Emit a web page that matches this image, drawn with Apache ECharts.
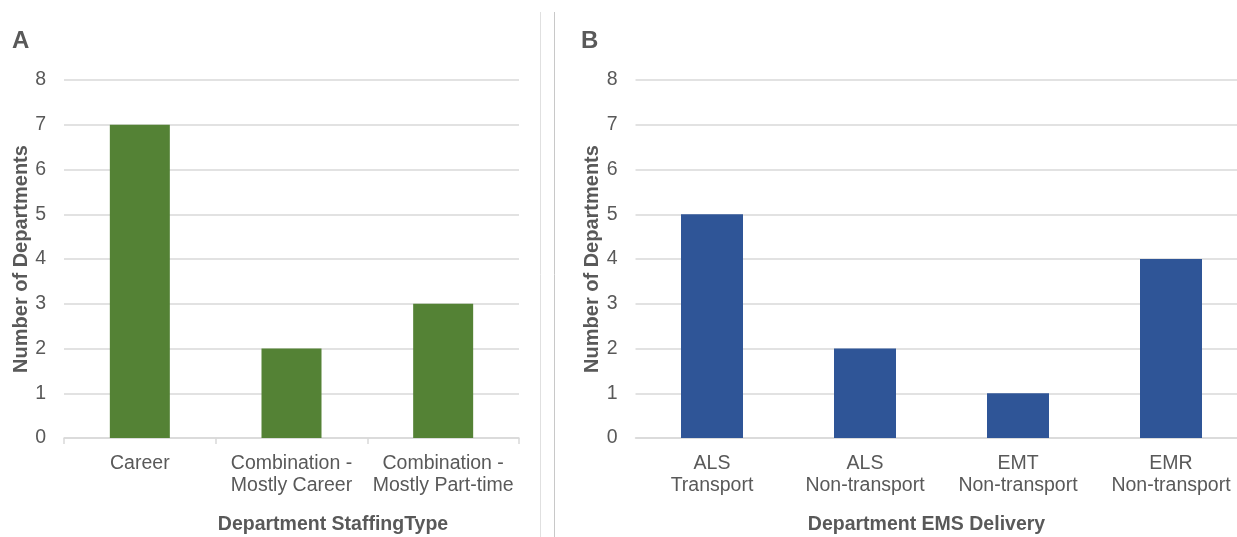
<!DOCTYPE html>
<html>
<head>
<meta charset="utf-8">
<script src="https://cdn.jsdelivr.net/npm/echarts@6/dist/echarts.min.js"></script>
<style>html,body{margin:0;padding:0;background:#fff;}#c{width:1237px;height:537px;}</style>
</head>
<body>
<div id="c"></div>
<script>
const staffingCategories = ['Career', 'Combination -\nMostly Career', 'Combination -\nMostly Part-time'];
const staffingValues = [7, 2, 3];
const emsCategories = ['ALS\nTransport', 'ALS\nNon-transport', 'EMT\nNon-transport', 'EMR\nNon-transport'];
const emsValues = [5, 2, 1, 4];
const yTicks = [0, 1, 2, 3, 4, 5, 6, 7, 8];

const FONT = '"Liberation Sans", Arial, sans-serif';
const TXT = '#595959';
const GRID = '#d9d9d9';

function yAxis(idx, gap) {
  return {
    type: 'value', gridIndex: idx, min: yTicks[0], max: yTicks[yTicks.length - 1], interval: 1,
    name: 'Number of Departments', nameLocation: 'middle', nameGap: gap,
    nameTextStyle: { fontFamily: FONT, fontSize: 20, fontWeight: 'bold', color: TXT },
    axisLine: { show: false }, axisTick: { show: false },
    axisLabel: { fontFamily: FONT, fontSize: 19.5, color: TXT, margin: 18 },
    splitLine: { lineStyle: { color: GRID, width: 1.5 } }
  };
}
function xAxis(idx, cats, name, ticks, pad) {
  return {
    type: 'category', gridIndex: idx, data: cats,
    name: name, nameLocation: 'middle', nameGap: 77,
    nameTextStyle: { fontFamily: FONT, fontSize: 19.5, fontWeight: 'bold', color: TXT, padding: pad },
    axisLine: { lineStyle: { color: GRID, width: 1.5 } },
    axisTick: { show: ticks, length: 6, lineStyle: { color: GRID, width: 1.5 } },
    axisLabel: { fontFamily: FONT, fontSize: 19.5, color: TXT, lineHeight: 22, margin: 15, interval: 0 }
  };
}

const chart = echarts.init(document.getElementById('c'));
chart.setOption({
  animation: false,
  backgroundColor: '#fff',
  grid: [
    { left: 64, right: 718, top: 80, bottom: 99, outerBoundsMode: 'none', containLabel: false },
    { left: 635.5, right: -10.5, top: 80, bottom: 99, outerBoundsMode: 'none', containLabel: false }
  ],
  xAxis: [
    xAxis(0, staffingCategories, 'Department StaffingType', true, [0, 0, 0, 83]),
    xAxis(1, emsCategories, 'Department EMS Delivery', false, [0, 30, 0, 0])
  ],
  yAxis: [yAxis(0, 32), yAxis(1, 32)],
  series: [
    { type: 'bar', xAxisIndex: 0, yAxisIndex: 0, data: staffingValues, barWidth: 60, itemStyle: { color: '#548235' } },
    { type: 'bar', xAxisIndex: 1, yAxisIndex: 1, data: emsValues, barWidth: 62, itemStyle: { color: '#2F5597' } }
  ],
  graphic: [
    { type: 'text', left: 12, top: 29, style: { text: 'A', font: 'bold 24px ' + FONT, fill: TXT } },
    { type: 'text', left: 581, top: 29, style: { text: 'B', font: 'bold 24px ' + FONT, fill: TXT } },
    { type: 'line', shape: { x1: 540.5, y1: 12, x2: 540.5, y2: 537 }, style: { stroke: '#e0e0e0', lineWidth: 1 } },
    { type: 'line', shape: { x1: 554.5, y1: 12, x2: 554.5, y2: 537 }, style: { stroke: '#c8c8c8', lineWidth: 1 } }
  ]
});
</script>
</body>
</html>
